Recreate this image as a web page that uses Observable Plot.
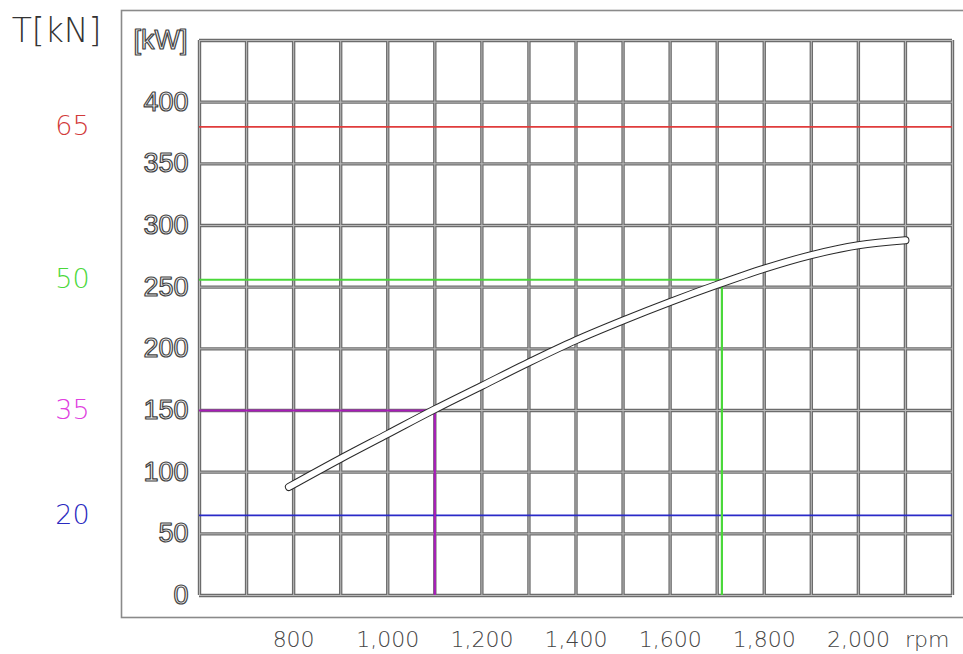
<!DOCTYPE html>
<html>
<head>
<meta charset="utf-8">
<script src="https://cdn.jsdelivr.net/npm/d3@7"></script>
<script src="https://cdn.jsdelivr.net/npm/@observablehq/plot@0.6"></script>
<style>
  html, body { margin: 0; padding: 0; background: #fff; }
  #chart svg { display: block; }
</style>
</head>
<body>
<div id="chart"></div>
<script>
// ---- data ----
const rpmDomain = [600, 2200];
const kwDomain = [0, 450];
const rpmGrid = d3.range(600, 2201, 100);
const kwGrid = d3.range(0, 451, 50);
const rpmLabels = [800, 1000, 1200, 1400, 1600, 1800, 2000];
const kwLabels = [0, 50, 100, 150, 200, 250, 300, 350, 400];

// power curve (rpm, kW)
const curveRpm = [790, 900, 1000, 1100, 1200, 1300, 1400, 1500, 1600, 1700, 1800, 1900, 2000, 2100];
const curveKw  = [88, 111, 131, 151, 170, 189, 207, 223, 238, 252, 265, 276, 284, 288];
const curve = curveRpm.map((r, i) => ({rpm: r, kw: curveKw[i]}));

// torque levels (kN) and the power line each one corresponds to
const torqueLabels = ["65", "50", "35", "20"];
const torqueKw = [380, 256, 150, 65];
const torqueText = ["#d23a3a", "#4ad83a", "#e040e0", "#2a2ac0"];
const torqueLine = ["#e03c3c", "#4ad83a", "#a81cb8", "#2a2ac8"];
const torque = torqueLabels.map((t, i) => ({t, kw: torqueKw[i], text: torqueText[i], line: torqueLine[i]}));

// operating-point guides (rpm, kW)
const guideRpm = [1100, 1710];
const guideKw = [150, 256];
const guideColor = ["#a81cb8", "#4ad83a"];
const guides = guideRpm.map((r, i) => ({rpm: r, kw: guideKw[i], color: guideColor[i]}));
const fullLines = torque.filter(d => d.t === "65" || d.t === "20");

const thinFont = "'DejaVu Sans', sans-serif";
const outlineFont = "'Liberation Sans', Arial, sans-serif";

const chart = Plot.plot({
  width: 963,
  height: 654,
  marginLeft: 199,
  marginRight: 11,
  marginTop: 40,
  marginBottom: 59,
  x: {domain: rpmDomain, axis: null},
  y: {domain: kwDomain, axis: null},
  style: {background: "#fff", overflow: "visible", fontFamily: thinFont},
  marks: [
    // outer drawing frame
    Plot.frame({insetLeft: -78, insetTop: -30, insetBottom: -22, insetRight: -30, stroke: "#8a8a8a", strokeWidth: 1.6}),
    // double-line grid
    Plot.ruleX(rpmGrid, {x: d => d, y1: kwDomain[0], y2: kwDomain[1], stroke: "#6c6c6c", strokeWidth: 3.4}),
    Plot.ruleY(kwGrid, {y: d => d, x1: rpmDomain[0], x2: rpmDomain[1], stroke: "#6c6c6c", strokeWidth: 3.4}),
    Plot.ruleX(rpmGrid, {x: d => d, y1: kwDomain[0], y2: kwDomain[1], stroke: "#b8b8b8", strokeWidth: 1}),
    Plot.ruleY(kwGrid, {y: d => d, x1: rpmDomain[0], x2: rpmDomain[1], stroke: "#b8b8b8", strokeWidth: 1}),
    // full-width torque lines
    Plot.ruleY(fullLines, {y: "kw", x1: rpmDomain[0], x2: rpmDomain[1], stroke: "line", strokeWidth: 1.6}),
    // operating-point guides
    Plot.ruleY(guides, {y: "kw", x1: rpmDomain[0], x2: "rpm", stroke: "color", strokeWidth: 2.2}),
    Plot.ruleX(guides, {x: "rpm", y1: kwDomain[0], y2: "kw", stroke: "color", strokeWidth: 2.2}),
    // power curve: outlined white band
    Plot.line(curve, {x: "rpm", y: "kw", curve: "monotone-x", stroke: "#2a2a2a", strokeWidth: 8, strokeLinecap: "round"}),
    Plot.line(curve, {x: "rpm", y: "kw", curve: "monotone-x", stroke: "#fff", strokeWidth: 6, strokeLinecap: "round"}),
    // y tick labels (outlined)
    Plot.text(kwLabels, {y: d => d, frameAnchor: "left", dx: -11, textAnchor: "end", text: d => String(d),
      fontSize: 27, fontFamily: outlineFont, fill: "#f6f6f6", stroke: "#444", strokeWidth: 1.2, paintOrder: "fill"}),
    Plot.text(["[kW]"], {frameAnchor: "top-left", dx: -12, dy: 0, textAnchor: "end", lineAnchor: "middle", text: d => d,
      fontSize: 27, fontFamily: outlineFont, fill: "#f6f6f6", stroke: "#444", strokeWidth: 1.2, paintOrder: "fill"}),
    // torque scale on the far left
    Plot.text(torque, {y: "kw", text: "t", fill: "text", frameAnchor: "left", dx: -127, textAnchor: "middle",
      fontSize: 27, fontFamily: thinFont, fontWeight: 200}),
    Plot.text(["T[kN]"], {frameAnchor: "top-left", dx: -143, dy: -9, textAnchor: "middle", lineAnchor: "middle", text: d => d,
      fill: "#333", fontSize: 33, fontFamily: thinFont, fontWeight: 200}),
    // x axis
    Plot.axisX(rpmLabels, {tickSize: 0, tickPadding: 36, fontSize: 22, fontWeight: 200, fill: "#444",
      tickFormat: d3.format(","), label: null}),
    Plot.text(["rpm"], {frameAnchor: "bottom-right", dx: -3, dy: 36, textAnchor: "end", lineAnchor: "top", text: d => d,
      fontSize: 22, fontWeight: 200, fill: "#444"})
  ]
});
document.getElementById("chart").appendChild(chart);
</script>
</body>
</html>
